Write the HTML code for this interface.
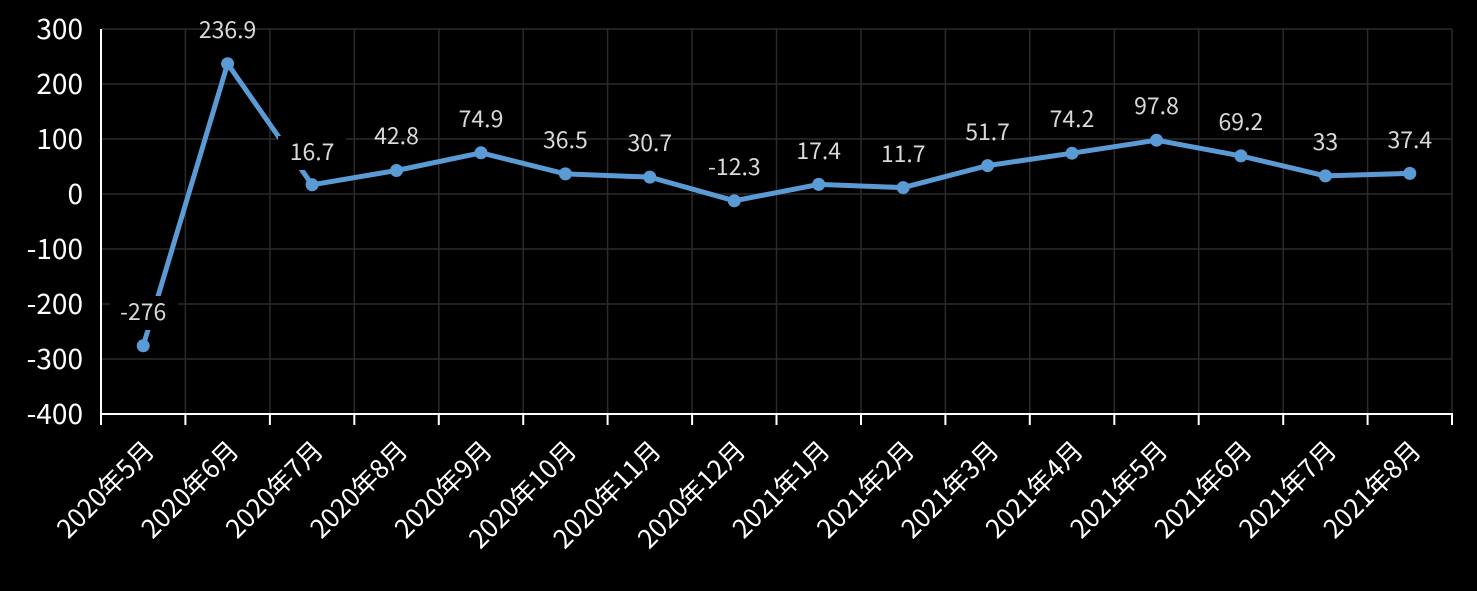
<!DOCTYPE html>
<html><head><meta charset="utf-8"><style>
html,body{margin:0;padding:0;background:#000;}
svg{display:block;}
.yl{font:28px "Noto Sans CJK SC",sans-serif;fill:#fff;text-anchor:end;}
.xl{font:26px "Noto Sans CJK SC",sans-serif;fill:#fff;text-anchor:end;}
.dl{font:23px "Noto Sans CJK SC",sans-serif;fill:#d9d9d9;text-anchor:middle;}
</style></head><body>
<svg width="1477" height="591" viewBox="0 0 1477 591">
<rect width="1477" height="591" fill="#000"/>
<g stroke="#2b2b2b" stroke-width="1.5">
<line x1="101" y1="29" x2="1452" y2="29"/><line x1="101" y1="84" x2="1452" y2="84"/><line x1="101" y1="139" x2="1452" y2="139"/><line x1="101" y1="194" x2="1452" y2="194"/><line x1="101" y1="249" x2="1452" y2="249"/><line x1="101" y1="304" x2="1452" y2="304"/><line x1="101" y1="359" x2="1452" y2="359"/>
<line x1="185.4" y1="29" x2="185.4" y2="414"/><line x1="269.9" y1="29" x2="269.9" y2="414"/><line x1="354.3" y1="29" x2="354.3" y2="414"/><line x1="438.8" y1="29" x2="438.8" y2="414"/><line x1="523.2" y1="29" x2="523.2" y2="414"/><line x1="607.6" y1="29" x2="607.6" y2="414"/><line x1="692.1" y1="29" x2="692.1" y2="414"/><line x1="776.5" y1="29" x2="776.5" y2="414"/><line x1="861" y1="29" x2="861" y2="414"/><line x1="945.4" y1="29" x2="945.4" y2="414"/><line x1="1029.8" y1="29" x2="1029.8" y2="414"/><line x1="1114.3" y1="29" x2="1114.3" y2="414"/><line x1="1198.7" y1="29" x2="1198.7" y2="414"/><line x1="1283.2" y1="29" x2="1283.2" y2="414"/><line x1="1367.6" y1="29" x2="1367.6" y2="414"/><line x1="1452" y1="29" x2="1452" y2="414"/>
</g>
<g stroke="#fff" stroke-width="2">
<line x1="101" y1="29" x2="101" y2="425"/>
<line x1="100" y1="414" x2="1453" y2="414"/>
<line x1="185.4" y1="414" x2="185.4" y2="425"/><line x1="269.9" y1="414" x2="269.9" y2="425"/><line x1="354.3" y1="414" x2="354.3" y2="425"/><line x1="438.8" y1="414" x2="438.8" y2="425"/><line x1="523.2" y1="414" x2="523.2" y2="425"/><line x1="607.6" y1="414" x2="607.6" y2="425"/><line x1="692.1" y1="414" x2="692.1" y2="425"/><line x1="776.5" y1="414" x2="776.5" y2="425"/><line x1="861" y1="414" x2="861" y2="425"/><line x1="945.4" y1="414" x2="945.4" y2="425"/><line x1="1029.8" y1="414" x2="1029.8" y2="425"/><line x1="1114.3" y1="414" x2="1114.3" y2="425"/><line x1="1198.7" y1="414" x2="1198.7" y2="425"/><line x1="1283.2" y1="414" x2="1283.2" y2="425"/><line x1="1367.6" y1="414" x2="1367.6" y2="425"/><line x1="1452" y1="414" x2="1452" y2="425"/>
</g>
<g>
<text class="yl" x="83" y="39">300</text><text class="yl" x="83" y="94">200</text><text class="yl" x="83" y="149">100</text><text class="yl" x="83" y="204">0</text><text class="yl" x="83" y="259">-100</text><text class="yl" x="83" y="314">-200</text><text class="yl" x="83" y="369">-300</text><text class="yl" x="83" y="424">-400</text>
</g>
<polyline fill="none" stroke="#5b9bd5" stroke-width="5" stroke-linejoin="round" points="143.2,345.8 227.6,63.7 312.1,184.8 396.5,170.5 481,152.8 565.4,173.9 649.8,177.1 734.3,200.8 818.7,184.4 903.2,187.6 987.6,165.6 1072,153.2 1156.5,140.2 1240.9,155.9 1325.4,175.9 1409.8,173.4"/>
<g fill="#5b9bd5">
<circle cx="143.2" cy="345.8" r="6.5"/><circle cx="227.6" cy="63.7" r="6.5"/><circle cx="312.1" cy="184.8" r="6.5"/><circle cx="396.5" cy="170.5" r="6.5"/><circle cx="481" cy="152.8" r="6.5"/><circle cx="565.4" cy="173.9" r="6.5"/><circle cx="649.8" cy="177.1" r="6.5"/><circle cx="734.3" cy="200.8" r="6.5"/><circle cx="818.7" cy="184.4" r="6.5"/><circle cx="903.2" cy="187.6" r="6.5"/><circle cx="987.6" cy="165.6" r="6.5"/><circle cx="1072" cy="153.2" r="6.5"/><circle cx="1156.5" cy="140.2" r="6.5"/><circle cx="1240.9" cy="155.9" r="6.5"/><circle cx="1325.4" cy="175.9" r="6.5"/><circle cx="1409.8" cy="173.4" r="6.5"/>
</g>
<g fill="#000">
<rect x="110" y="296" width="68" height="34"/>
<rect x="278" y="136" width="68" height="34"/>
</g>
<g>
<text class="dl" x="143.2" y="320">-276</text>
<text class="dl" x="227.6" y="38">236.9</text>
<text class="dl" x="312.1" y="160">16.7</text>
<text class="dl" x="396.5" y="144">42.8</text>
<text class="dl" x="481" y="127">74.9</text>
<text class="dl" x="565.4" y="148">36.5</text>
<text class="dl" x="649.8" y="151">30.7</text>
<text class="dl" x="734.3" y="175">-12.3</text>
<text class="dl" x="818.7" y="159">17.4</text>
<text class="dl" x="903.2" y="162">11.7</text>
<text class="dl" x="987.6" y="140">51.7</text>
<text class="dl" x="1072" y="127">74.2</text>
<text class="dl" x="1156.5" y="114">97.8</text>
<text class="dl" x="1240.9" y="130">69.2</text>
<text class="dl" x="1325.4" y="150">33</text>
<text class="dl" x="1409.8" y="148">37.4</text>
</g>
<g>
<text class="xl" transform="translate(156,452) rotate(-45)">2020年5月</text>
<text class="xl" transform="translate(240.4,452) rotate(-45)">2020年6月</text>
<text class="xl" transform="translate(324.9,452) rotate(-45)">2020年7月</text>
<text class="xl" transform="translate(409.3,452) rotate(-45)">2020年8月</text>
<text class="xl" transform="translate(493.8,452) rotate(-45)">2020年9月</text>
<text class="xl" transform="translate(578.2,452) rotate(-45)">2020年10月</text>
<text class="xl" transform="translate(662.6,452) rotate(-45)">2020年11月</text>
<text class="xl" transform="translate(747.1,452) rotate(-45)">2020年12月</text>
<text class="xl" transform="translate(831.5,452) rotate(-45)">2021年1月</text>
<text class="xl" transform="translate(916,452) rotate(-45)">2021年2月</text>
<text class="xl" transform="translate(1000.4,452) rotate(-45)">2021年3月</text>
<text class="xl" transform="translate(1084.8,452) rotate(-45)">2021年4月</text>
<text class="xl" transform="translate(1169.3,452) rotate(-45)">2021年5月</text>
<text class="xl" transform="translate(1253.7,452) rotate(-45)">2021年6月</text>
<text class="xl" transform="translate(1338.2,452) rotate(-45)">2021年7月</text>
<text class="xl" transform="translate(1422.6,452) rotate(-45)">2021年8月</text>
</g>
</svg>
</body></html>
